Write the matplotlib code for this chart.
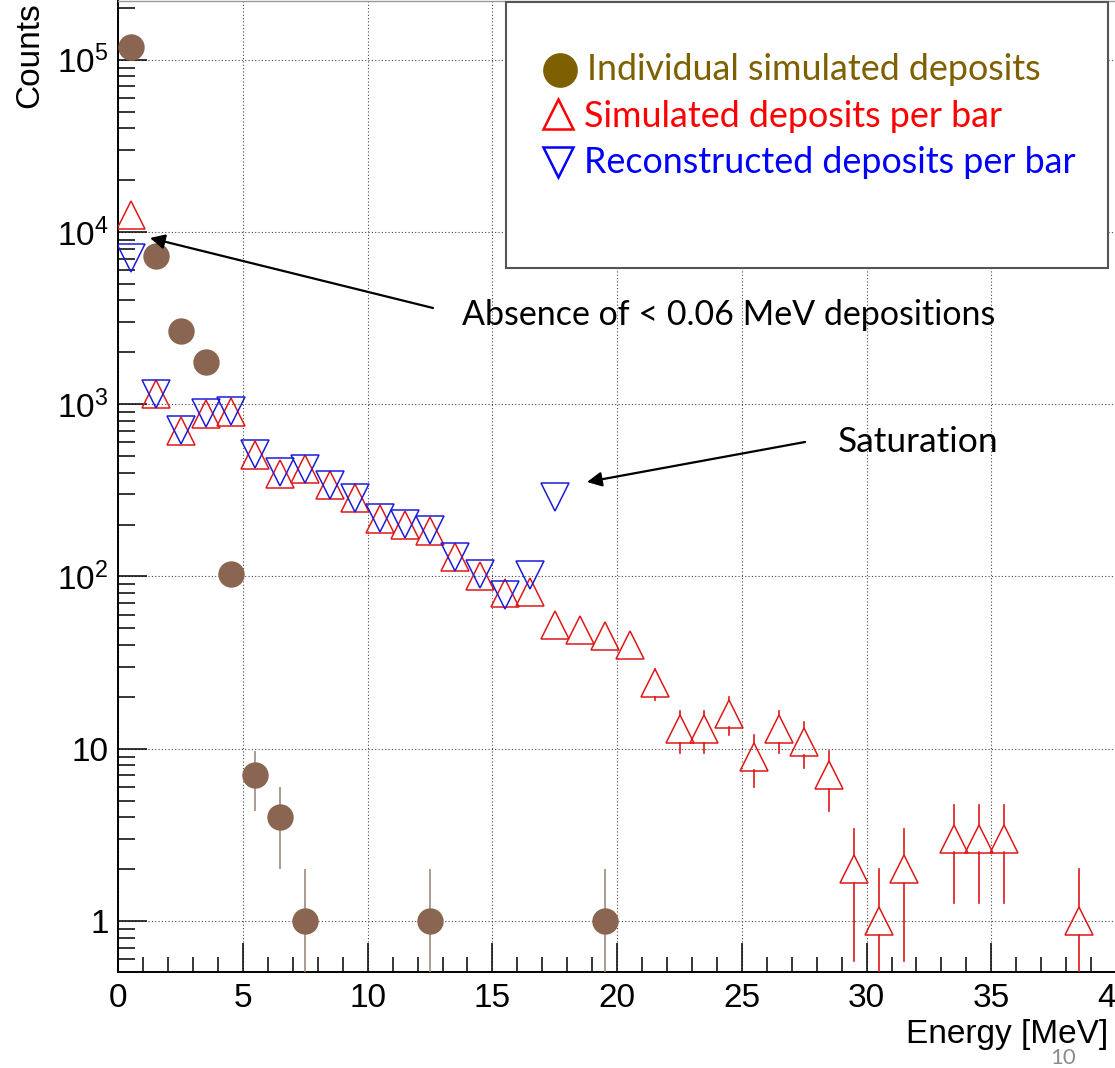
import numpy as np
import matplotlib
matplotlib.use("Agg")
import matplotlib.pyplot as plt
from matplotlib.ticker import MultipleLocator, LogLocator, FuncFormatter, NullFormatter
from matplotlib.lines import Line2D
from matplotlib.patches import Rectangle

plt.rcParams['font.family'] = ['Liberation Sans', 'DejaVu Sans']
plt.rcParams['mathtext.fontset'] = 'custom'
plt.rcParams['mathtext.rm'] = 'Liberation Sans'

# ---- histogram contents (bin centres in MeV, counts per 1 MeV bin) ----
indiv_energy = [0.5, 1.5, 2.5, 3.5, 4.5, 5.5, 6.5, 7.5, 12.5, 19.5]
indiv_counts = [119000, 7250, 2650, 1750, 104, 7, 4, 1, 1, 1]

sim_energy = [0.5, 1.5, 2.5, 3.5, 4.5, 5.5, 6.5, 7.5, 8.5, 9.5,
              10.5, 11.5, 12.5, 13.5, 14.5, 15.5, 16.5, 17.5, 18.5, 19.5,
              20.5, 21.5, 22.5, 23.5, 24.5, 25.5, 26.5, 27.5, 28.5, 29.5,
              30.5, 31.5, 33.5, 34.5, 35.5, 38.5]
sim_counts = [12600, 1150, 700, 880, 905, 510, 393, 420, 340, 285,
              217, 200, 183, 129, 101, 80, 81, 52, 49, 45,
              40, 24, 13, 13, 16, 9, 13, 11, 7, 2,
              1, 2, 3, 3, 3, 1]

reco_energy = [0.5, 1.5, 2.5, 3.5, 4.5, 5.5, 6.5, 7.5, 8.5, 9.5,
               10.5, 11.5, 12.5, 13.5, 14.5, 15.5, 16.5, 17.5]
reco_counts = [7030, 1150, 710, 885, 915, 515, 404, 422, 341, 287,
               219, 202, 187, 129, 104, 78, 102, 291]

x_ticks = [0, 5, 10, 15, 20, 25, 30, 35, 40]

legend_labels = ["Individual simulated deposits",
                 "Simulated deposits per bar",
                 "Reconstructed deposits per bar"]

BROWN = "#8a6551"
BROWN_ERR = "#9c8b80"
OLIVE = "#7f6000"
RED = "#e01818"
BLUE = "#1c1cd8"

W, H = 1115, 1068
DPI = 100
fig = plt.figure(figsize=(W / DPI, H / DPI), dpi=DPI)


def fx(px):
    return px / W


def fy(py):
    return 1 - py / H


ax = fig.add_axes([fx(118.3), fy(972), fx(1116 - 118.3), (972 - 1) / H])
ax.set_yscale('log')
ax.set_xlim(0, 40)
ax.set_ylim(0.506, 2.19e5)

# ---- axis cosmetics (inward ticks, dotted grid on major ticks) ----
ax.xaxis.set_major_locator(MultipleLocator(5))
ax.xaxis.set_minor_locator(MultipleLocator(1))
ax.yaxis.set_major_locator(LogLocator(base=10, numticks=20))
ax.yaxis.set_minor_locator(LogLocator(base=10, subs=np.arange(2, 10), numticks=20))
ax.yaxis.set_minor_formatter(NullFormatter())


def ylab(v, pos):
    e = int(round(np.log10(v)))
    if e == 0:
        return "1"
    if e == 1:
        return "10"
    return r"$\mathregular{10^{%d}}$" % e


ax.yaxis.set_major_formatter(FuncFormatter(ylab))
ax.set_xticks(x_ticks)
ax.set_xticklabels([str(t) for t in x_ticks])

ax.tick_params(which='both', direction='in', width=1.1, color='black',
               top=False, right=False)
ax.tick_params(axis='x', which='major', length=21, pad=8, labelsize=24)
ax.tick_params(axis='x', which='minor', length=11)
ax.tick_params(axis='y', which='major', length=21, pad=7, labelsize=24)
ax.tick_params(axis='y', which='minor', length=12)
for s in ('left', 'bottom'):
    ax.spines[s].set_linewidth(1.4)
ax.spines['top'].set_linewidth(1.0)
ax.spines['top'].set_color('#999999')
ax.spines['right'].set_visible(False)
ax.grid(which='major', linestyle=(0, (1, 2)), color='#444444', linewidth=0.8)
ax.set_axisbelow(True)

# ---- error bars ----
MS_TRI = 19.5
MS_DOT = 19.0


def split_errorbars(x, y, ms_pt, color, lw):
    """Poisson error bars drawn only outside the open marker."""
    x = np.asarray(x, float)
    y = np.asarray(y, float)
    err = np.sqrt(y)
    half = ms_pt * DPI / 72 / 2
    td = ax.transData
    pts = td.transform(np.column_stack([x, y]))
    top_edge = td.inverted().transform(pts + [0, half])[:, 1]
    bot_edge = td.inverted().transform(pts - [0, half])[:, 1]
    hi = y + err
    lo = np.maximum(y - err, 1e-3)
    for xi, t, h in zip(x, top_edge, hi):
        if h > t:
            ax.plot([xi, xi], [t, h], color=color, lw=lw, zorder=3)
    for xi, b, l in zip(x, bot_edge, lo):
        if l < b:
            ax.plot([xi, xi], [l, b], color=color, lw=lw, zorder=3)


ic = np.asarray(indiv_counts, float)
ax.vlines(indiv_energy, np.maximum(ic - np.sqrt(ic), 1e-3), ic + np.sqrt(ic),
          color=BROWN_ERR, lw=1.2, zorder=3)
split_errorbars(sim_energy, sim_counts, MS_TRI, RED, 1.2)
split_errorbars(reco_energy, reco_counts, MS_TRI, BLUE, 1.2)

# ---- markers ----
ax.plot(indiv_energy, indiv_counts, 'o', ms=MS_DOT, color=BROWN, mec='none', zorder=4)
ax.plot(sim_energy, sim_counts, '^', ms=MS_TRI, mfc='none', mec=RED, mew=1.1, zorder=5)
ax.plot(reco_energy, reco_counts, 'v', ms=MS_TRI, mfc='none', mec=BLUE, mew=1.1, zorder=6)

# ---- axis titles ----
fig.text(fx(30), fy(2), "Counts", rotation=90, ha='center', va='top', fontsize=24)
fig.text(fx(1108), fy(1043), "Energy [MeV]", ha='right', va='baseline', fontsize=24)

# ---- legend box ----
ANN_FONT = ['Lato', 'DejaVu Sans']
fig.add_artist(Rectangle((fx(506), fy(268)), fx(1108 - 506), (268 - 1.5) / H,
                         transform=fig.transFigure, facecolor='white',
                         edgecolor='#555555', lw=1.5, zorder=10))
fig.add_artist(Line2D([fx(560)], [fy(69.5)], marker='o', ms=25, color=OLIVE,
                      mec='none', transform=fig.transFigure, zorder=11))
fig.add_artist(Line2D([fx(558)], [fy(114)], marker='^', ms=21, mfc='none', mec='#ff0000',
                      mew=1.8, transform=fig.transFigure, zorder=11))
fig.add_artist(Line2D([fx(558)], [fy(161.5)], marker='v', ms=21, mfc='none', mec='#0000ff',
                      mew=1.8, transform=fig.transFigure, zorder=11))
for (txt, col, x0, base) in zip(legend_labels, [OLIVE, '#ff0000', '#0000ff'],
                                [587, 584, 584], [80, 127, 173]):
    fig.text(fx(x0), fy(base), txt, color=col, ha='left', va='baseline',
             fontsize=25.8, family=ANN_FONT, zorder=12)

# ---- annotations ----
arrow = dict(arrowstyle='-|>', color='black', lw=1.6, mutation_scale=22,
             shrinkA=0, shrinkB=0)
ax.annotate('', xy=(fx(150), fy(238)), xycoords='figure fraction',
            xytext=(fx(433), fy(308)), textcoords='figure fraction',
            arrowprops=arrow, zorder=8)
ax.annotate('', xy=(fx(587), fy(482)), xycoords='figure fraction',
            xytext=(fx(805), fy(442)), textcoords='figure fraction',
            arrowprops=arrow, zorder=8)
fig.text(fx(462), fy(325), "Absence of < 0.06 MeV depositions", ha='left',
         va='baseline', fontsize=24.5, family=ANN_FONT, color='black', zorder=12)
fig.text(fx(838), fy(452), "Saturation", ha='left', va='baseline',
         fontsize=25.5, family=ANN_FONT, color='black', zorder=12)

# slide page number
fig.text(fx(1063), fy(1064), "10", ha='center', va='baseline', fontsize=16,
         family=ANN_FONT, color='#8c8c8c', zorder=12)

fig.savefig("out.png", dpi=DPI)
